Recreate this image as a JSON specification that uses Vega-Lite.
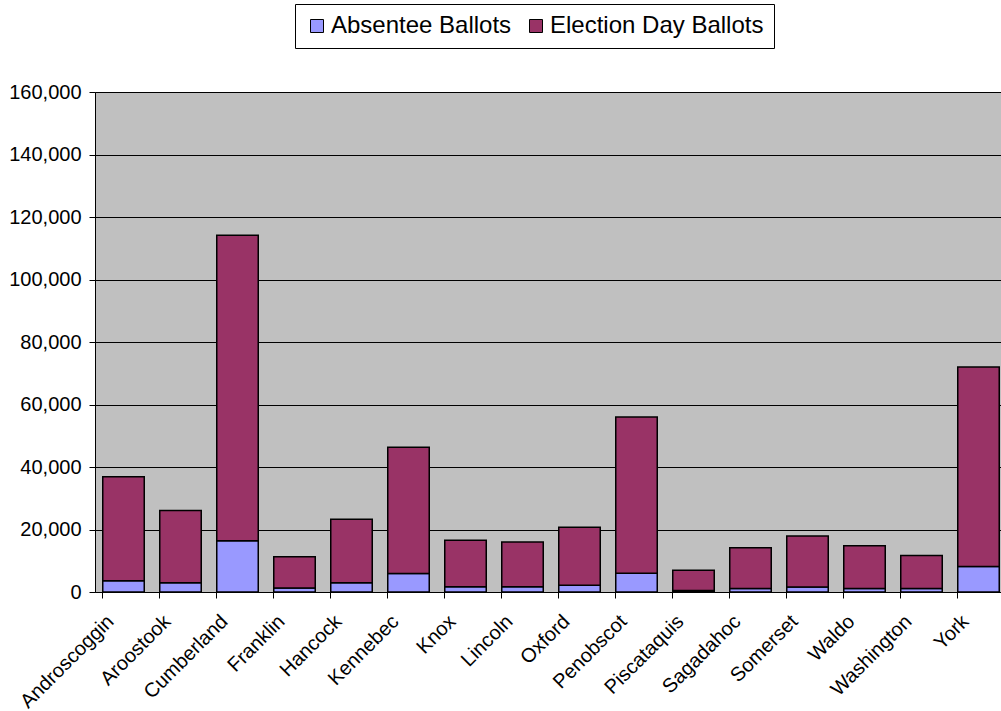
{
  "$schema": "https://vega.github.io/schema/vega-lite/v6.json",
  "autosize": {"type": "none"},
  "padding": {"left": 95, "top": 92, "right": 0, "bottom": 119},
  "width": 906,
  "height": 500,
  "background": "white",
  "config": {
    "font": "Liberation Sans",
    "view": {"fill": "#C0C0C0", "stroke": "#808080", "strokeWidth": 1}
  },
  "data": {
    "values": [
      {"county": "Androscoggin", "type": "Absentee Ballots", "ballots": 3600},
      {"county": "Androscoggin", "type": "Election Day Ballots", "ballots": 33300},
      {"county": "Aroostook", "type": "Absentee Ballots", "ballots": 3000},
      {"county": "Aroostook", "type": "Election Day Ballots", "ballots": 23100},
      {"county": "Cumberland", "type": "Absentee Ballots", "ballots": 16400},
      {"county": "Cumberland", "type": "Election Day Ballots", "ballots": 97800},
      {"county": "Franklin", "type": "Absentee Ballots", "ballots": 1300},
      {"county": "Franklin", "type": "Election Day Ballots", "ballots": 10000},
      {"county": "Hancock", "type": "Absentee Ballots", "ballots": 3000},
      {"county": "Hancock", "type": "Election Day Ballots", "ballots": 20300},
      {"county": "Kennebec", "type": "Absentee Ballots", "ballots": 5900},
      {"county": "Kennebec", "type": "Election Day Ballots", "ballots": 40400},
      {"county": "Knox", "type": "Absentee Ballots", "ballots": 1700},
      {"county": "Knox", "type": "Election Day Ballots", "ballots": 14900},
      {"county": "Lincoln", "type": "Absentee Ballots", "ballots": 1700},
      {"county": "Lincoln", "type": "Election Day Ballots", "ballots": 14300},
      {"county": "Oxford", "type": "Absentee Ballots", "ballots": 2200},
      {"county": "Oxford", "type": "Election Day Ballots", "ballots": 18500},
      {"county": "Penobscot", "type": "Absentee Ballots", "ballots": 6000},
      {"county": "Penobscot", "type": "Election Day Ballots", "ballots": 50000},
      {"county": "Piscataquis", "type": "Absentee Ballots", "ballots": 500},
      {"county": "Piscataquis", "type": "Election Day Ballots", "ballots": 6500},
      {"county": "Sagadahoc", "type": "Absentee Ballots", "ballots": 1100},
      {"county": "Sagadahoc", "type": "Election Day Ballots", "ballots": 13100},
      {"county": "Somerset", "type": "Absentee Ballots", "ballots": 1600},
      {"county": "Somerset", "type": "Election Day Ballots", "ballots": 16300},
      {"county": "Waldo", "type": "Absentee Ballots", "ballots": 1100},
      {"county": "Waldo", "type": "Election Day Ballots", "ballots": 13700},
      {"county": "Washington", "type": "Absentee Ballots", "ballots": 1100},
      {"county": "Washington", "type": "Election Day Ballots", "ballots": 10600},
      {"county": "York", "type": "Absentee Ballots", "ballots": 8200},
      {"county": "York", "type": "Election Day Ballots", "ballots": 63800}
    ]
  },
  "mark": {"type": "bar", "stroke": "black", "strokeWidth": 1.5},
  "encoding": {
    "x": {
      "field": "county",
      "type": "nominal",
      "sort": null,
      "scale": {"range": [0, 912], "paddingInner": 0.272, "paddingOuter": 0.136},
      "axis": {
        "title": null,
        "labelAngle": -45,
        "bandPosition": 0,
        "domainColor": "black",
        "tickColor": "black",
        "tickSize": 6,
        "labelFont": "Liberation Sans",
        "labelFontSize": 20,
        "labelColor": "black",
        "labelPadding": 13,
        "labelOffset": -20,
        "labelLimit": 300
      }
    },
    "y": {
      "field": "ballots",
      "type": "quantitative",
      "stack": "zero",
      "scale": {"domain": [0, 160000], "nice": false},
      "axis": {
        "title": null,
        "values": [0, 20000, 40000, 60000, 80000, 100000, 120000, 140000, 160000],
        "format": ",d",
        "grid": true,
        "gridColor": "black",
        "gridOpacity": 1,
        "gridWidth": 1,
        "domainColor": "black",
        "tickColor": "black",
        "tickSize": 6,
        "labelFont": "Liberation Sans",
        "labelFontSize": 20,
        "labelColor": "black",
        "labelPadding": 8
      }
    },
    "color": {
      "field": "type",
      "type": "nominal",
      "scale": {
        "domain": ["Absentee Ballots", "Election Day Ballots"],
        "range": ["#9999FF", "#993366"]
      },
      "legend": {
        "title": null,
        "orient": "none",
        "legendX": 200,
        "legendY": -88,
        "direction": "horizontal",
        "strokeColor": "black",
        "fillColor": "white",
        "padding": 10,
        "symbolType": "square",
        "symbolSize": 169,
        "symbolStrokeColor": "black",
        "symbolStrokeWidth": 1,
        "symbolOpacity": 1,
        "labelFont": "Liberation Sans",
        "labelFontSize": 24,
        "labelColor": "black",
        "labelOffset": 2,
        "labelLimit": 400,
        "columnPadding": 12
      }
    },
    "order": {"field": "type", "sort": "ascending"}
  }
}
